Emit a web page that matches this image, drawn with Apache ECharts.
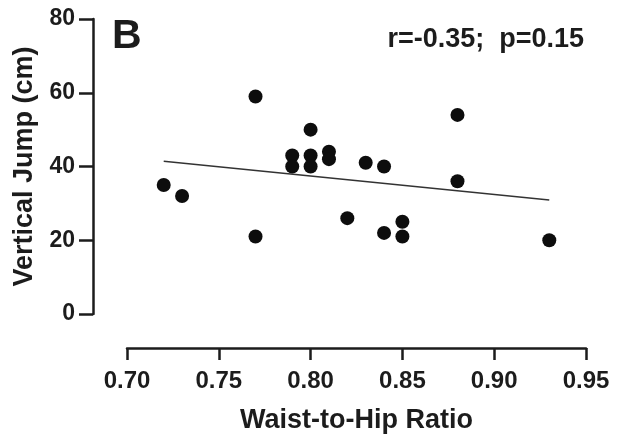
<!DOCTYPE html>
<html>
<head>
<meta charset="utf-8">
<script src="https://cdn.jsdelivr.net/npm/echarts@6/dist/echarts.min.js"></script>
<style>
  html, body { margin: 0; padding: 0; background: #fff; }
  #chart { width: 621px; height: 436px; }
</style>
</head>
<body>
<div id="chart"></div>
<script>
// waist-to-hip ratio vs vertical jump
var whr = [0.72, 0.73, 0.77, 0.77, 0.79, 0.79, 0.80, 0.80, 0.80, 0.81,
           0.81, 0.82, 0.83, 0.84, 0.84, 0.85, 0.85, 0.88, 0.88, 0.93];
var jump = [35, 32, 59, 21, 43, 40, 50, 43, 40, 44,
            42, 26, 41, 40, 22, 25, 21, 54, 36, 20];
// fitted line end points (as drawn)
var fitX = [0.72, 0.93];
var fitY = [41.4, 30.9];
var xTicks = [0.70, 0.75, 0.80, 0.85, 0.90, 0.95];
var yTicks = [0, 20, 40, 60, 80];

var font = 'Arial, "Liberation Sans", sans-serif';
var ink = '#1c1c1c';

var points = whr.map(function (x, i) { return [x, jump[i]]; });
var fit = fitX.map(function (x, i) { return [x, fitY[i]]; });

var myChart = echarts.init(document.getElementById('chart'));
var options = {
  animation: false,
  backgroundColor: '#fff',
  grid: {
    left: 127,
    right: 35,
    top: 19,
    bottom: 122,
    outerBoundsMode: 'none' // keep the plot box where it is, axes are offset
  },
  graphic: [
    {
      type: 'text',
      left: 112,
      top: 16,
      style: { text: 'B', font: 'bold 41px ' + font, fill: ink }
    },
    {
      type: 'text',
      right: 37,
      top: 26,
      style: { text: 'r=-0.35;  p=0.15', font: 'bold 27px ' + font, fill: ink }
    }
  ],
  xAxis: {
    type: 'value',
    min: xTicks[0],
    max: xTicks[xTicks.length - 1],
    interval: 0.05,
    offset: 34,
    name: 'Waist-to-Hip Ratio',
    nameLocation: 'middle',
    nameGap: 59,
    nameTextStyle: { fontFamily: font, fontWeight: 'bold', fontSize: 27, color: ink },
    axisLine: { show: true, onZero: false, lineStyle: { color: ink, width: 2.5 } },
    axisTick: { show: true, length: 12, lineStyle: { color: ink, width: 2.5 } },
    axisLabel: {
      fontFamily: font, fontWeight: 'bold', fontSize: 24, color: ink, margin: 21,
      formatter: function (v) { return v.toFixed(2); }
    },
    splitLine: { show: false }
  },
  yAxis: {
    type: 'value',
    min: yTicks[0],
    max: yTicks[yTicks.length - 1],
    interval: 20,
    offset: 34,
    name: 'Vertical Jump (cm)',
    nameLocation: 'middle',
    nameGap: 51,
    nameTextStyle: { fontFamily: font, fontWeight: 'bold', fontSize: 27, color: ink },
    axisLine: { show: true, onZero: false, lineStyle: { color: ink, width: 2.5 } },
    axisTick: { show: true, length: 14, lineStyle: { color: ink, width: 2.5 } },
    axisLabel: { fontFamily: font, fontWeight: 'bold', fontSize: 23, color: ink, margin: 18 },
    splitLine: { show: false }
  },
  series: [
    {
      type: 'line',
      data: fit,
      symbol: 'none',
      lineStyle: { color: '#333', width: 1.5 },
      z: 1
    },
    {
      type: 'scatter',
      data: points,
      symbol: 'circle',
      symbolSize: 14,
      itemStyle: { color: '#0d0d0d', opacity: 1 },
      z: 2
    }
  ]
};
myChart.setOption(options);
</script>
</body>
</html>
